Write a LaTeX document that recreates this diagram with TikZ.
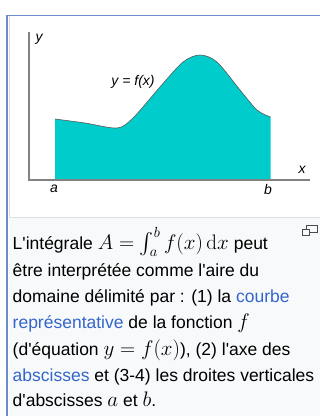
\RequirePackage{fix-cm}
\documentclass[tikz,border=0pt]{standalone}
\usepackage[no-math]{fontspec}
\setmainfont{Liberation Sans}
\usepackage{amsmath}
\usepackage{amssymb}

\definecolor{framebl}{RGB}{108,142,205}
\definecolor{capbg}{RGB}{248,249,250}
\definecolor{areacyan}{RGB}{0,204,204}
\definecolor{linkbl}{RGB}{51,102,204}
\definecolor{axisgray}{RGB}{130,130,130}
\newcommand{\apos}{\textquotesingle}
\newcommand{\mth}[1]{{\fontsize{21}{22}\selectfont$#1$}}

\begin{document}
\begin{tikzpicture}[x=1pt,y=-1pt]
    \useasboundingbox (0,0) rectangle (320,416);

    % frame of the thumbnail
    \fill[capbg] (9,218) rectangle (320,416);
    \draw[black!13] (9.5,16) -- (9.5,217.5) -- (320,217.5);
    \draw[framebl,line width=2pt] (7,15) -- (7,416);
    \draw[framebl] (7,15) -- (320,15);

    % the area under the curve
    \begin{scope}
        \coordinate (O) at (29,180);
        \coordinate (Ytop) at (29,32);
        \coordinate (Xend) at (310,180);
        \coordinate (A) at (55,180);
        \coordinate (B) at (270.5,180);
        \fill[areacyan] (A) -- plot[smooth] coordinates {(55,119) (85,123) (117,128) (133,118) (160,87) (183,62) (200,55) (217,62) (240,90) (257,110) (270.5,117)} -- (B) -- cycle;
        \draw[black!65,line width=0.6pt] plot[smooth] coordinates {(55,119) (85,123) (117,128) (133,118) (160,87) (183,62) (200,55) (217,62) (240,90) (257,110) (270.5,117)};
        \draw[axisgray,line width=1.1pt] (Ytop) -- (O) -- (Xend);
    \end{scope}

    \begin{scope}[every node/.style={font=\fontsize{14}{16}\selectfont\itshape,inner sep=0pt}]
        \node (ylab) at (39,39) {y};
        \node (xlab) at (302,170) {x};
        \node (alab) at (54,189) {a};
        \node (blab) at (268,189) {b};
        \node (flab) at (133,82) {y = f(x)};
    \end{scope}

    % enlarge icon
    \draw[black!70] (306.5,225.5) rectangle (317.5,232.5);
    \draw[black!70,fill=capbg] (302.5,229.5) rectangle (309.5,235.5);

    % caption
    \begin{scope}[every node/.style={anchor=base west,inner sep=0pt,font=\fontsize{17.5}{21}\selectfont}]
        \node (l1) at (12.5,249) {L\apos{}intégrale \mth{A=\int_a^b f(x)\,\mathrm{d}x} peut};
        \node (l2) at (12.5,276) {être interprétée comme l\apos{}aire du};
        \node (l3) at (12.5,302) {domaine délimité par : (1) la \textcolor{linkbl}{courbe}};
        \node (l4) at (12.5,328) {\textcolor{linkbl}{représentative} de la fonction \mth{f}};
        \node (l5) at (12.5,355) {(d\apos{}équation \mth{y=f(x)}), (2) l\apos{}axe des};
        \node (l6) at (12.5,381) {\textcolor{linkbl}{abscisses} et (3-4) les droites verticales};
        \node (l7) at (12.5,406) {d\apos{}abscisses \mth{a} et \mth{b}.};
    \end{scope}
\end{tikzpicture}
\end{document}
